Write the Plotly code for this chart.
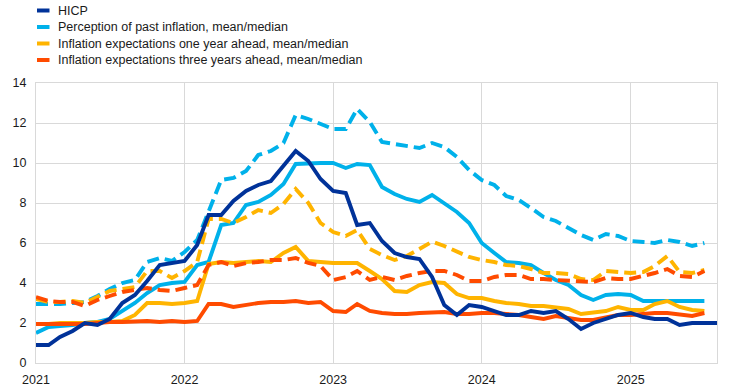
import pandas as pd
import plotly.graph_objects as go

# ---------------- data (monthly, from Jan 2021) ----------------
survey_start = "2021-01-01"
hicp_start = "2021-01-01"

hicp = [0.9, 0.9, 1.3, 1.6, 2.0, 1.9, 2.2, 3.0, 3.4, 4.1, 4.9, 5.0,
        5.1, 5.9, 7.4, 7.4, 8.1, 8.6, 8.9, 9.1, 9.9, 10.6, 10.1, 9.2,
        8.6, 8.5, 6.9, 7.0, 6.1, 5.5, 5.3, 5.2, 4.3, 2.9, 2.4, 2.9,
        2.8, 2.6, 2.4, 2.4, 2.6, 2.5, 2.6, 2.2, 1.7, 2.0, 2.2, 2.4,
        2.5, 2.3, 2.2, 2.2, 1.9, 2.0, 2.0, 2.0]

perc_mean = [2.95, 2.95, 2.95, 3.0, 3.05, 3.35, 3.7, 4.0, 4.15, 5.05, 5.25, 5.1,
             5.55, 6.15, 7.55, 9.15, 9.25, 9.6, 10.4, 10.6, 11.0, 12.4, 12.2, 11.95,
             11.7, 11.7, 12.7, 12.05, 11.05, 10.95, 10.85, 10.75, 11.0, 10.8, 10.3, 9.65,
             9.15, 8.9, 8.35, 8.15, 7.75, 7.3, 7.1, 6.75, 6.4, 6.15, 6.45, 6.35,
             6.1, 6.05, 6.0, 6.15, 6.05, 5.85, 6.0]
perc_median = [1.5, 1.8, 1.85, 1.9, 2.0, 2.05, 2.2, 2.6, 3.0, 3.5, 3.9, 4.0,
               4.05, 4.9, 5.05, 6.9, 7.0, 7.9, 8.05, 8.4, 8.95, 9.95, 10.0, 10.0,
               10.0, 9.75, 9.95, 9.9, 8.8, 8.45, 8.2, 8.05, 8.4, 8.0, 7.55, 7.0,
               6.0, 5.5, 5.05, 5.0, 4.9, 4.5, 4.15, 3.9, 3.4, 3.15, 3.4, 3.45,
               3.4, 3.1, 3.1, 3.1, 3.1, 3.1, 3.1]
one_year_mean = [3.2, 3.05, 3.05, 3.1, 3.0, 3.3, 3.6, 3.7, 3.8, 4.6, 4.6, 4.25,
                 4.6, 5.05, 7.2, 7.2, 7.0, 7.3, 7.65, 7.5, 7.95, 8.7, 8.0, 7.0,
                 6.55, 6.35, 6.65, 5.7, 5.4, 5.15, 5.35, 5.7, 6.07, 5.85, 5.55, 5.3,
                 5.15, 5.05, 4.9, 4.85, 4.7, 4.5, 4.5, 4.45, 4.2, 4.15, 4.6, 4.55,
                 4.5, 4.55, 4.85, 5.35, 4.55, 4.5, 4.65]
one_year_median = [1.95, 1.95, 2.0, 2.0, 2.0, 2.05, 2.05, 2.1, 2.4, 3.0, 3.0, 2.95,
                   3.0, 3.1, 4.95, 5.05, 5.0, 5.05, 5.1, 5.05, 5.5, 5.8, 5.1, 5.05,
                   5.0, 5.0, 5.0, 4.6, 4.2, 3.6, 3.55, 3.9, 4.05, 4.0, 3.45, 3.25,
                   3.25, 3.1, 3.0, 2.95, 2.85, 2.85, 2.8, 2.7, 2.45, 2.5, 2.6, 2.8,
                   2.65, 2.65, 2.95, 3.1, 2.8, 2.65, 2.6]
three_year_mean = [3.3, 3.1, 3.05, 3.05, 2.85, 3.15, 3.35, 3.55, 3.65, 3.75, 3.65, 3.6,
                   3.75, 3.9, 4.9, 5.05, 4.85, 5.0, 5.05, 5.15, 5.15, 5.25, 5.0, 4.85,
                   4.15, 4.3, 4.6, 4.15, 4.3, 4.15, 4.35, 4.5, 4.6, 4.6, 4.4, 4.1,
                   4.1, 4.3, 4.4, 4.4, 4.2, 4.2, 4.15, 4.1, 4.05, 4.05, 4.25, 4.2,
                   4.2, 4.35, 4.5, 4.7, 4.35, 4.3, 4.6]
three_year_median = [1.95, 1.95, 1.95, 1.95, 1.95, 2.0, 2.05, 2.05, 2.1, 2.1, 2.05, 2.1,
                     2.05, 2.1, 2.95, 2.95, 2.8, 2.9, 3.0, 3.05, 3.05, 3.1, 3.0, 3.05,
                     2.6, 2.55, 2.95, 2.6, 2.5, 2.45, 2.45, 2.5, 2.55, 2.55, 2.45, 2.45,
                     2.5, 2.5, 2.45, 2.4, 2.3, 2.2, 2.35, 2.25, 2.15, 2.15, 2.3, 2.4,
                     2.4, 2.45, 2.5, 2.5, 2.45, 2.35, 2.5]

year_ticks = ["2021", "2022", "2023", "2024", "2025"]
y_ticks = [0, 2, 4, 6, 8, 10, 12, 14]

legend_labels = ["HICP",
                 "Perception of past inflation, mean/median",
                 "Inflation expectations one year ahead, mean/median",
                 "Inflation expectations three years ahead, mean/median"]

# ---------------- styling ----------------
DARK_BLUE = "#003299"
LIGHT_BLUE = "#00B1EA"
YELLOW = "#FFB400"
ORANGE = "#FF4B00"
GRID = "#D9D9D9"
FONT = "Liberation Sans, Arial, sans-serif"
FS = 12.5
LW = 3.9
DASH = "12px,6px"

survey_dates = pd.date_range(survey_start, periods=len(perc_mean), freq="MS")
hicp_dates = pd.date_range(hicp_start, periods=len(hicp), freq="MS")

fig = go.Figure()

series = [
    (perc_mean, LIGHT_BLUE, DASH),
    (perc_median, LIGHT_BLUE, "solid"),
    (one_year_mean, YELLOW, DASH),
    (one_year_median, YELLOW, "solid"),
    (three_year_mean, ORANGE, DASH),
    (three_year_median, ORANGE, "solid"),
]
for vals, col, dash in series:
    fig.add_trace(go.Scatter(x=survey_dates, y=vals, mode="lines",
                             line=dict(color=col, width=LW, dash=dash),
                             showlegend=False, hoverinfo="skip"))
fig.add_trace(go.Scatter(x=hicp_dates, y=hicp, mode="lines",
                         line=dict(color=DARK_BLUE, width=LW),
                         showlegend=False, hoverinfo="skip"))

W, H = 743, 388
L, R, T, B = 36, 26, 83, 25
pw, ph = W - L - R, H - T - B

def px_x(px):
    return (px - L) / pw

def px_y(py):
    return (H - B - py) / ph

legend_colors = [DARK_BLUE, LIGHT_BLUE, YELLOW, ORANGE]
legend_rows = [10.5, 27, 43.5, 60]
shapes, annotations = [], []
for lab, col, ry in zip(legend_labels, legend_colors, legend_rows):
    shapes.append(dict(type="rect", xref="paper", yref="paper",
                       x0=px_x(37), x1=px_x(49.5), y0=px_y(ry + 2), y1=px_y(ry - 2),
                       fillcolor=col, line=dict(width=0)))
    annotations.append(dict(xref="paper", yref="paper", x=px_x(56), y=px_y(ry),
                            text=lab, showarrow=False, xanchor="left", yanchor="middle",
                            font=dict(family=FONT, size=FS, color="#1a1a1a")))

fig.update_layout(
    width=W, height=H,
    margin=dict(l=L, r=R, t=T, b=B, pad=0, autoexpand=False),
    paper_bgcolor="white", plot_bgcolor="white",
    font=dict(family=FONT, size=FS, color="#1a1a1a"),
    shapes=shapes, annotations=annotations,
    xaxis=dict(type="date", range=["2021-01-01", "2025-08-01"],
               tickvals=[f"{y}-01-01" for y in year_ticks], ticktext=year_ticks,
               showgrid=True, gridcolor=GRID, gridwidth=1,
               showline=True, linecolor=GRID, linewidth=1, mirror=True,
               ticks="outside", ticklen=5, tickcolor="rgba(0,0,0,0)",
               zeroline=False, automargin=False, tickfont=dict(size=FS)),
    yaxis=dict(range=[0, 14], tickvals=y_ticks,
               showgrid=True, gridcolor=GRID, gridwidth=1,
               showline=True, linecolor=GRID, linewidth=1, mirror=True,
               ticks="outside", ticklen=6, tickcolor="rgba(0,0,0,0)",
               zeroline=False, automargin=False, tickfont=dict(size=FS)),
)

fig.write_html("out.html", config={"displayModeBar": False},
               post_script="document.body.style.margin='0';document.body.style.overflow='hidden';")
